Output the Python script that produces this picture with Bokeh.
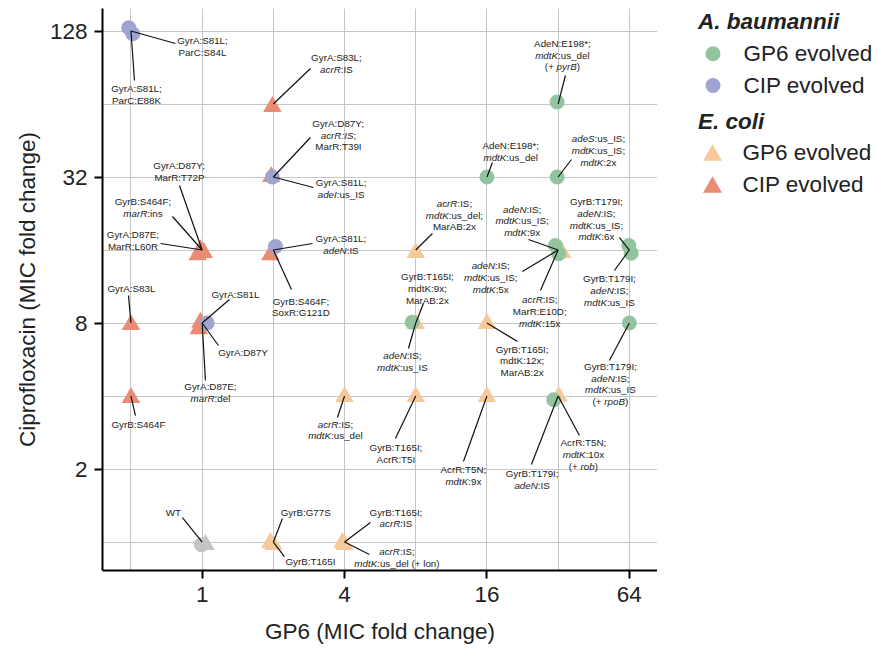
import re
import math
from bokeh.plotting import figure
from bokeh.layouts import row
from bokeh.models import (FixedTicker, PrintfTickFormatter, Range1d, ColumnDataSource)
from bokeh.core.properties import value
from bokeh.embed import file_html
from bokeh.resources import INLINE

FONT = "Liberation Sans"

# ---------------- data ----------------
# A. baumannii, GP6 evolved
ab_gp6_x = [32, 16, 32, 32, 32, 64, 64, 64, 8, 32]
ab_gp6_y = [64, 32, 32, 16, 16, 16, 16, 8, 8, 4]
ab_gp6_lab = [
    "AdeN:E198*;\n{mdtK}:us_del\n(+ {pyrB})",
    "AdeN:E198*;\n{mdtK}:us_del",
    "{adeS}:us_IS;\n{mdtK}:us_IS;\n{mdtK}:2x",
    "{adeN}:IS;\n{mdtK}:us_IS;\n{mdtK}:9x",
    "{adeN}:IS;\n{mdtK}:us_IS;\n{mdtK}:5x",
    "GyrB:T179I;\n{adeN}:IS;\n{mdtK}:us_IS;\n{mdtK}:6x",
    "GyrB:T179I;\n{adeN}:IS;\n{mdtK}:us_IS",
    "GyrB:T179I;\n{adeN}:IS;\n{mdtK}:us_IS\n(+ {rpoB})",
    "{adeN}:IS;\n{mdtK}:us_IS",
    "GyrB:T179I;\n{adeN}:IS",
]
# A. baumannii, CIP evolved
ab_cip_x = [0.5, 0.5, 2, 2, 1]
ab_cip_y = [128, 128, 32, 16, 8]
ab_cip_lab = [
    "GyrA:S81L;\nParC:S84L",
    "GyrA:S81L;\nParC:E88K",
    "GyrA:S81L;\n{adeI}:us_IS",
    "GyrA:S81L;\n{adeN}:IS",
    "GyrA:S81L",
]
# E. coli, GP6 evolved
ec_gp6_x = [8, 8, 16, 32, 4, 8, 16, 32, 2, 2, 4, 4]
ec_gp6_y = [16, 8, 8, 16, 4, 4, 4, 4, 1, 1, 1, 1]
ec_gp6_lab = [
    "{acrR}:IS;\n{mdtK}:us_del;\nMarAB:2x",
    "GyrB:T165I;\nmdtK:9x;\nMarAB:2x",
    "GyrB:T165I;\nmdtK:12x;\nMarAB:2x",
    "{acrR}:IS;\nMarR:E10D;\n{mdtK}:15x",
    "{acrR}:IS;\n{mdtK}:us_del",
    "GyrB:T165I;\nAcrR:T5I",
    "AcrR:T5N;\n{mdtK}:9x",
    "AcrR:T5N;\n{mdtK}:10x\n(+ {rob})",
    "GyrB:G77S",
    "GyrB:T165I",
    "GyrB:T165I;\n{acrR}:IS",
    "{acrR}:IS;\n{mdtK}:us_del (+ lon)",
]
# E. coli, CIP evolved
ec_cip_x = [2, 2, 1, 1, 1, 2, 0.5, 1, 1, 0.5]
ec_cip_y = [64, 32, 16, 16, 16, 16, 8, 8, 8, 4]
ec_cip_lab = [
    "GyrA:S83L;\n{acrR}:IS",
    "GyrA:D87Y;\n{acrR:IS};\nMarR:T39I",
    "GyrA:D87Y;\nMarR:T72P",
    "GyrB:S464F;\n{marR}:ins",
    "GyrA:D87E;\nMarR:L60R",
    "GyrB:S464F;\nSoxR:G121D",
    "GyrA:S83L",
    "GyrA:D87Y",
    "GyrA:D87E;\n{marR}:del",
    "GyrB:S464F",
]
# wild type
wt_x = [1]
wt_y = [1]
wt_lab = ["WT"]

x_ticks = [1, 4, 16, 64]
y_ticks = [2, 8, 32, 128]
x_grid = [0.5, 1, 2, 4, 8, 16, 32, 64]
y_grid = [1, 2, 4, 8, 16, 32, 64, 128]
x_title = "GP6 (MIC fold change)"
y_title = "Ciprofloxacin (MIC fold change)"

legend_groups = ["A. baumannii", "E. coli"]
legend_labels = ["GP6 evolved", "CIP evolved"]

# ---------------- layout (screen px offsets from each point) ----------------
# (marker jitter dx, dy, label centre dx, dy, leader end dx, dy)
ab_gp6_pos = [
    (-1, -2, 4.3, -49, 7.3, -28.5),
    (0, 0, 23.8, -25.2, 5.5, -14.5),
    (-1, 0, 40.3, -26.7, 13.3, -17.5),
    (-2.7, -4.5, -36, -29.2, -29.7, -10.5),
    (0.6, 3.8, -67.4, 27.5, -35.7, 21.5),
    (-0.6, -4.5, -32.9, -30.8, -9.9, -12.5),
    (1.8, 3.2, -19.9, 40.5, -14.9, 20.5),
    (0, 0, -18.9, 60.9, -19.9, 37.5),
    (-3.6, -0.8, -13.3, 38.8, -7.3, 25.5),
    (-4.4, 3.8, -26, 83.3, -26.7, 68.5),
]
ab_cip_pos = [
    (-2.2, -3.2, 71.5, 15.5, 44.5, 12.5),
    (1.8, 2.8, 5.5, 63.5, 3.5, 49.5),
    (-1, 0, 67.8, 11.5, 40.1, 10.5),
    (2.1, -3.5, 67.6, -5.8, 39.1, -6.5),
    (5, 0, 33.3, -28.5, 27.3, -23.5),
]
ec_gp6_pos = [
    (0, 0, 38.7, -35, 16.7, -16.5),
    (0, -2, 11.7, -34.8, 7.7, -19.5),
    (0, -2, 35.2, 37.8, 30.5, 18.5),
    (4, 0, -18.4, 61.7, -17.7, 40.5),
    (0, -2, -9.1, 34, -7.1, 21.5),
    (0, -2, -19.8, 57.5, -20.3, 42.5),
    (0, -2, -23.5, 79.2, -23.5, 65.5),
    (0.6, -2.2, 25.3, 58.7, 21.3, 39.5),
    (-3, -2, 32.4, -29.8, 9.1, -23.5),
    (0, 0, 37.1, 19.2, 11.1, 14.5),
    (-2, -2, 51.4, -24, 25.9, -19.5),
    (0, 0, 52.4, 15.5, 24.9, 12.5),
]
ec_cip_pos = [
    (-1, 0, 63.1, -40.5, 37.1, -35.5),
    (-2, -3, 65.1, -42, 37.1, -39.5),
    (-1.7, -2.8, -22.7, -78.5, -22.7, -64.5),
    (1.6, 0, -59.2, -42.5, -29.7, -33.5),
    (-4.4, 2.2, -69.2, -9.5, -41.7, -6.5),
    (-2.9, 2.2, 27.6, 57, 18.1, 39.5),
    (0, -1, 0.5, -34.2, -2.5, -27.5),
    (-1.7, -3.2, 40.8, 29.2, 16.3, 22.5),
    (-3.4, 3.2, 8.3, 69.5, 3.3, 57.5),
    (0, -1, 7.5, 28.5, 4.5, 19.5),
]
wt_pos = [(-0.7, 2.8, -28.7, -29.8, -19.7, -24.5)]
wt_tri_jit = (3.3, 0)

# ---------------- styles ----------------
C_AB_GP6 = "#93c4a0"
C_AB_CIP = "#a0a4d0"
C_EC_GP6 = "#f6c99b"
C_EC_CIP = "#ea8b73"
C_WT = "#c4c4c4"
CIRCLE_SIZE = 15
TRI_SIZE = 18.5
ANN_FS = 9.8
ANN_LH = 11.8
BIG_FS = "22.5px"
TXT_COL = "#222222"

W, H = 657, 648          # main panel
BL, BR, BT, BB = 102, 0, 8, 78
SIDE_W = 220             # legend panel
X_START, X_END = 0.379, 84.2
Y_START, Y_END = 0.763, 158.5
FW, FH = W - BL - BR, H - BT - BB
KX = FW / math.log2(X_END / X_START)
KY = FH / math.log2(Y_END / Y_START)
TRI_SHIFT = TRI_SIZE * math.sqrt(3) / 2 / 6  # centroid -> mid-height

ARIAL = {' ': 278, '!': 278, '(': 333, ')': 333, '*': 389, '+': 584, ',': 278, '-': 333,
         '.': 278, '/': 278, ':': 278, ';': 278, '_': 556,
         'A': 667, 'B': 667, 'C': 722, 'D': 722, 'E': 667, 'F': 611, 'G': 778, 'H': 722,
         'I': 278, 'J': 500, 'K': 667, 'L': 556, 'M': 833, 'N': 722, 'O': 778, 'P': 667,
         'Q': 778, 'R': 722, 'S': 667, 'T': 611, 'U': 722, 'V': 667, 'W': 944, 'X': 667,
         'Y': 667, 'Z': 611,
         'a': 556, 'b': 556, 'c': 500, 'd': 556, 'e': 556, 'f': 278, 'g': 556, 'h': 556,
         'i': 222, 'j': 222, 'k': 500, 'l': 222, 'm': 833, 'n': 556, 'o': 556, 'p': 556,
         'q': 556, 'r': 333, 's': 500, 't': 278, 'u': 556, 'v': 500, 'w': 722, 'x': 500,
         'y': 500, 'z': 500}
for d in "0123456789":
    ARIAL[d] = 556


def tw(s):
    return sum(ARIAL.get(c, 556) for c in s) / 1000.0 * ANN_FS


def shift(v, px, k, sign=1):
    return v * 2 ** (sign * px / k)


p = figure(width=W, height=H, x_axis_type="log", y_axis_type="log",
           x_range=Range1d(X_START, X_END), y_range=Range1d(Y_START, Y_END),
           output_backend="svg", toolbar_location=None,
           min_border_left=BL, min_border_right=BR, min_border_top=BT, min_border_bottom=BB,
           x_axis_label=x_title, y_axis_label=y_title)
p.outline_line_color = None
p.background_fill_color = "white"
p.border_fill_color = "white"

p.xgrid.ticker = FixedTicker(ticks=x_grid, minor_ticks=[])
p.ygrid.ticker = FixedTicker(ticks=y_grid, minor_ticks=[])
for g in (p.xgrid, p.ygrid):
    g.grid_line_color = "#c6c6c6"
    g.grid_line_width = 1

p.xaxis.ticker = FixedTicker(ticks=x_ticks, minor_ticks=[])
p.yaxis.ticker = FixedTicker(ticks=y_ticks, minor_ticks=[])
for ax in (p.xaxis, p.yaxis):
    ax.formatter = PrintfTickFormatter(format="%d")
    ax.axis_line_width = 2
    ax.axis_line_color = "black"
    ax.major_tick_line_width = 2
    ax.major_tick_line_color = "black"
    ax.major_tick_out = 8
    ax.major_tick_in = 0
    ax.minor_tick_out = 0
    ax.minor_tick_in = 0
    ax.major_label_text_font = FONT
    ax.major_label_text_font_size = BIG_FS
    ax.major_label_text_color = TXT_COL
    ax.axis_label_text_font = FONT
    ax.axis_label_text_font_size = BIG_FS
    ax.axis_label_text_font_style = "normal"
    ax.axis_label_text_color = TXT_COL
p.xaxis.major_label_standoff = 8
p.yaxis.major_label_standoff = 7
p.xaxis.axis_label_standoff = 14
p.yaxis.axis_label_standoff = 7

# ---------------- annotations ----------------
seg = dict(x0=[], y0=[], x1=[], y1=[])
txt = dict(x=[], y=[], text=[], xo=[], yo=[], style=[])


def add_labels(xs, ys, labs, pos):
    for x, y, lab, (jx, jy, tx, ty, lx, ly) in zip(xs, ys, labs, pos):
        seg["x0"].append(x)
        seg["y0"].append(y)
        seg["x1"].append(shift(x, lx, KX))
        seg["y1"].append(shift(y, ly, KY, -1))
        lines = lab.split("\n")
        n = len(lines)
        for i, line in enumerate(lines):
            yo = ty + (i - (n - 1) / 2) * ANN_LH
            parts = []
            for part in re.split(r"(\{[^}]*\})", line):
                if not part:
                    continue
                if part.startswith("{"):
                    parts.append((part[1:-1], "italic"))
                else:
                    parts.append((part, "normal"))
            wtot = sum(tw(s) for s, _ in parts)
            xc = tx - wtot / 2
            for s, st in parts:
                txt["x"].append(x)
                txt["y"].append(y)
                txt["text"].append(s)
                txt["xo"].append(xc)
                txt["yo"].append(yo)
                txt["style"].append(st)
                xc += tw(s)


add_labels(ab_gp6_x, ab_gp6_y, ab_gp6_lab, ab_gp6_pos)
add_labels(ab_cip_x, ab_cip_y, ab_cip_lab, ab_cip_pos)
add_labels(ec_gp6_x, ec_gp6_y, ec_gp6_lab, ec_gp6_pos)
add_labels(ec_cip_x, ec_cip_y, ec_cip_lab, ec_cip_pos)
add_labels(wt_x, wt_y, wt_lab, wt_pos)


def jit(xs, ys, pos, tri=False):
    jx = [shift(x, p_[0], KX) for x, p_ in zip(xs, pos)]
    jy = [shift(y, p_[1] + (TRI_SHIFT if tri else 0), KY, -1) for y, p_ in zip(ys, pos)]
    return jx, jy


# markers: triangles first, circles on top
ex, ey = jit(ec_gp6_x, ec_gp6_y, ec_gp6_pos, True)
p.scatter(ex, ey, marker="triangle", size=TRI_SIZE, fill_color=C_EC_GP6, line_color=None)
cx_, cy_ = jit(ec_cip_x, ec_cip_y, ec_cip_pos, True)
p.scatter(cx_, cy_, marker="triangle", size=TRI_SIZE, fill_color=C_EC_CIP, line_color=None)
wtx, wty = jit(wt_x, wt_y, [wt_tri_jit + (0, 0, 0, 0)], True)
p.scatter(wtx, wty, marker="triangle", size=TRI_SIZE, fill_color=C_WT, line_color=None)
wcx, wcy = jit(wt_x, wt_y, wt_pos)
p.scatter(wcx, wcy, marker="circle", size=CIRCLE_SIZE, fill_color=C_WT, line_color=None)
ax_, ay_ = jit(ab_gp6_x, ab_gp6_y, ab_gp6_pos)
p.scatter(ax_, ay_, marker="circle", size=CIRCLE_SIZE, fill_color=C_AB_GP6, line_color=None)
bx_, by_ = jit(ab_cip_x, ab_cip_y, ab_cip_pos)
p.scatter(bx_, by_, marker="circle", size=CIRCLE_SIZE, fill_color=C_AB_CIP, line_color=None)

p.segment(x0="x0", y0="y0", x1="x1", y1="y1", source=ColumnDataSource(seg),
          line_color="#111111", line_width=1.2)
p.text(x="x", y="y", text="text", x_offset="xo", y_offset="yo", text_font_style="style",
       source=ColumnDataSource(txt), text_font=value(FONT), text_font_size=value(f"{ANN_FS}px"),
       text_color=TXT_COL, text_align="left", text_baseline="middle")

# ---------------- legend panel (page-pixel coordinates, frame aligned with main) ----------------
side = figure(width=SIDE_W, height=H, x_range=Range1d(0, SIDE_W), y_range=Range1d(H - BB, BT),
              output_backend="svg", toolbar_location=None,
              min_border_left=0, min_border_right=0, min_border_top=BT, min_border_bottom=BB,
              x_axis_location=None, y_axis_location=None)
side.grid.visible = False
side.outline_line_color = None
side.background_fill_color = "white"
side.border_fill_color = "white"

head_x, head_y = [40.5, 40.5], [20.5, 120.5]
side.text(head_x, head_y, text=legend_groups, text_font=value(FONT), text_font_size=value(BIG_FS),
          text_font_style="bold italic", text_color=TXT_COL, text_align="left",
          text_baseline="middle")
side.scatter([55.5, 55.5], [53.3, 85], marker="circle", size=CIRCLE_SIZE,
             fill_color=[C_AB_GP6, C_AB_CIP], line_color=None)
side.scatter([55, 55], [152 + 2.7, 184 + 2.7], marker="triangle", size=19,
             fill_color=[C_EC_GP6, C_EC_CIP], line_color=None)
side.text([86, 86, 85, 85], [53.3, 85, 152, 184], text=legend_labels * 2,
          text_font=value(FONT), text_font_size=value(BIG_FS), text_color=TXT_COL,
          text_align="left", text_baseline="middle")

layout = row(p, side)
open("out.html", "w").write(file_html(layout, INLINE))
